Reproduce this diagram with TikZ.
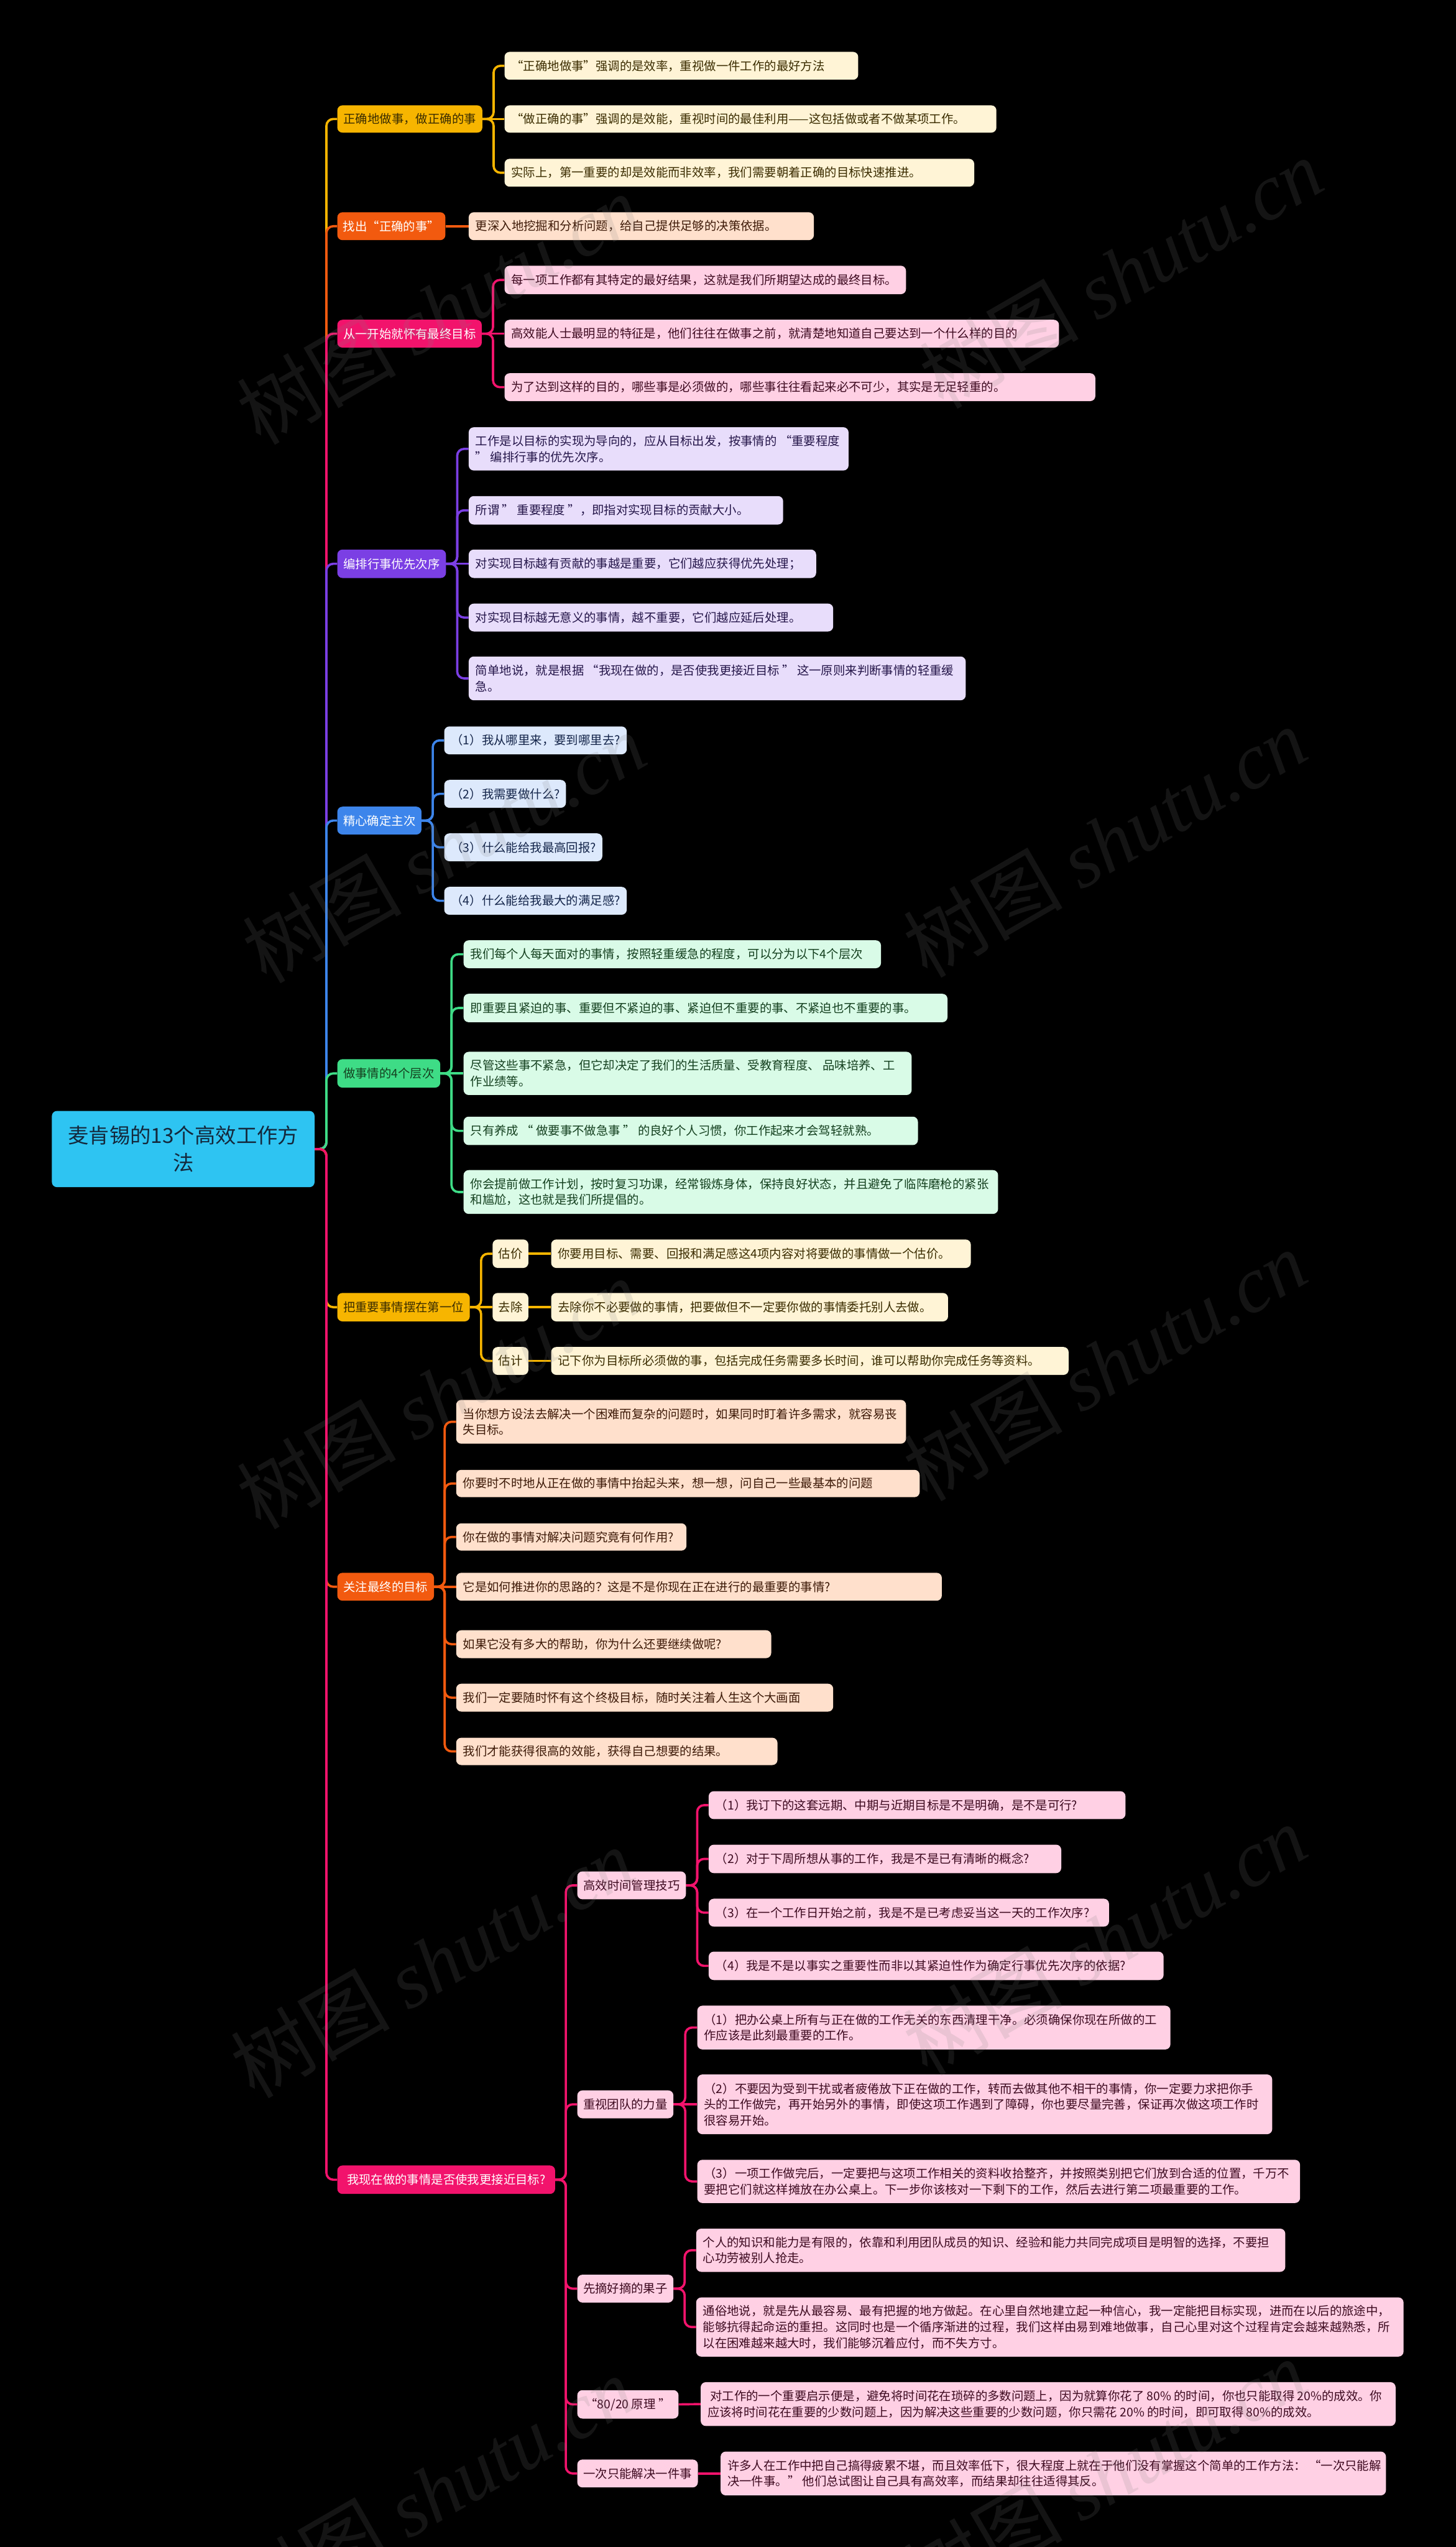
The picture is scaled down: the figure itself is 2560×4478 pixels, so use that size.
\documentclass[tikz,border=0pt]{standalone}
\usepackage{fontspec}
\setmainfont{Noto Sans CJK SC}
\newfontfamily\wmserif{Liberation Serif}
\definecolor{cYel}{HTML}{F7B500}
\definecolor{lYel}{HTML}{FFF4D6}
\definecolor{tYel}{HTML}{3A2C00}
\definecolor{cOra}{HTML}{F25A0F}
\definecolor{lOra}{HTML}{FFE0CC}
\definecolor{tOra}{HTML}{3D1A08}
\definecolor{cMag}{HTML}{F2136C}
\definecolor{lMag}{HTML}{FFD0E4}
\definecolor{tMag}{HTML}{3D0A20}
\definecolor{cPur}{HTML}{7B3FE4}
\definecolor{lPur}{HTML}{E8DDFB}
\definecolor{tPur}{HTML}{25164A}
\definecolor{cBlu}{HTML}{3D85EB}
\definecolor{lBlu}{HTML}{DDE9FC}
\definecolor{tBlu}{HTML}{14254A}
\definecolor{cGrn}{HTML}{3EDC86}
\definecolor{lGrn}{HTML}{D9FBE7}
\definecolor{tGrn}{HTML}{14401F}
\definecolor{cRoot}{HTML}{2EC4F2}
\definecolor{tRoot}{HTML}{14283C}
\pgfdeclarelayer{back}
\pgfdeclarelayer{lines}
\pgfsetlayers{back,lines,main}
% name, fill, text colour, x1, y1, x2, y2, text
\newcommand\mkleaf[8]{%
  \node[boxs, fill=#2, minimum width={#6pt-#4pt}, minimum height={#7pt-#5pt}, anchor=north west] (#1) at (#4,#5) {};
  \node[txt, text=#3, anchor=west] (#1t) at ([xshift=12pt]#1.west) {#8};}
\newcommand\mkcent[8]{%
  \node[boxs, fill=#2, minimum width={#6pt-#4pt}, minimum height={#7pt-#5pt}, anchor=north west] (#1) at (#4,#5) {};
  \node[txt, text=#3, anchor=center, align=center] (#1t) at (#1.center) {#8};}
\newcommand\mklink[4]{\draw[conn,#1] (#2.east) -- (#2.east -| #3) |- (#4.west);}
\newcommand\mkstraight[3]{\draw[conn,#1] (#2.east) -- (#3.west);}
\newcommand\mkmain[2]{\draw[conn,#1] (root.east) -- (root.east -| sp) |- (#2.west);}
\begin{document}
\begin{tikzpicture}[x=1pt,y=-1pt,
  boxs/.style={rounded corners=9pt, inner sep=0pt, draw=none},
  txt/.style={inner sep=0pt, font=\fontsize{21.2}{28}\selectfont, align=left},
  conn/.style={line width=4pt, rounded corners=12pt},
  wm/.style={text=white!50!black, opacity=0.16, inner sep=0pt, rotate=30, font=\fontsize{140}{140}\selectfont}]
\begin{pgfonlayer}{back}
\fill[black] (0,0) rectangle (2560,4478);
\end{pgfonlayer}
\useasboundingbox (0,0) rectangle (2560,4478);

\coordinate (sp) at (574,0);
\coordinate (v1) at (868,0);
\coordinate (v3) at (867,0);
\coordinate (v4) at (804,0);
\coordinate (v5) at (761,0);
\coordinate (v6) at (794,0);
\coordinate (v7) at (846,0);
\coordinate (v8) at (782,0);
\coordinate (v9) at (995,0);
\coordinate (v9a) at (1226,0);
\coordinate (v9b) at (1205,0);
\coordinate (v9c) at (1204,0);

% root
\node[boxs, fill=cRoot, minimum width=462pt, minimum height=134pt, anchor=north west] (root) at (91,1953) {};
\node[inner sep=0pt, text=tRoot, align=center, font=\fontsize{36.5}{48}\selectfont] (roott) at (root.center) {麦肯锡的13个高效工作方\\法};

% branch nodes
\mkcent{b1}{cYel}{tYel}{593}{185}{848}{233}{正确地做事，做正确的事}
\mkcent{b2}{cOra}{white}{593}{373}{783}{422}{找出“正确的事”}
\mkcent{b3}{cMag}{white}{593}{562}{847}{611}{从一开始就怀有最终目标}
\mkcent{b4}{cPur}{white}{593}{966}{784}{1016}{编排行事优先次序}
\mkcent{b5}{cBlu}{white}{593}{1418}{741}{1467}{精心确定主次}
\mkcent{b6}{cGrn}{tGrn}{593}{1862}{774}{1912}{做事情的4个层次}
\mkcent{b7}{cYel}{tYel}{593}{2273}{826}{2323}{把重要事情摆在第一位}
\mkcent{b8}{cOra}{white}{593}{2765}{763}{2814}{关注最终的目标}
\mkcent{b9}{cMag}{white}{593}{3807}{976}{3857}{我现在做的事情是否使我更接近目标?}

% branch 1
\mkleaf{l1a}{lYel}{tYel}{887}{91}{1509}{140}{“正确地做事”强调的是效率，重视做一件工作的最好方法}
\mkleaf{l1b}{lYel}{tYel}{887}{185}{1752}{233}{“做正确的事”强调的是效能，重视时间的最佳利用——这包括做或者不做某项工作。}
\mkleaf{l1c}{lYel}{tYel}{887}{279}{1713}{328}{实际上，第一重要的却是效能而非效率，我们需要朝着正确的目标快速推进。}
% branch 2
\mkleaf{l2a}{lOra}{tOra}{824}{373}{1431}{422}{更深入地挖掘和分析问题，给自己提供足够的决策依据。}
% branch 3
\mkleaf{l3a}{lMag}{tMag}{887}{467}{1593}{517}{每一项工作都有其特定的最好结果，这就是我们所期望达成的最终目标。}
\mkleaf{l3b}{lMag}{tMag}{887}{562}{1862}{611}{高效能人士最明显的特征是，他们往往在做事之前，就清楚地知道自己要达到一个什么样的目的}
\mkleaf{l3c}{lMag}{tMag}{887}{656}{1926}{705}{为了达到这样的目的，哪些事是必须做的，哪些事往往看起来必不可少，其实是无足轻重的。}
% branch 4
\mkleaf{l4a}{lPur}{tPur}{824}{751}{1492}{827}{工作是以目标的实现为导向的，应从目标出发，按事情的 “重要程度\\” 编排行事的优先次序。}
\mkleaf{l4b}{lPur}{tPur}{824}{872}{1377}{922}{所谓 " 重要程度 "，即指对实现目标的贡献大小。}
\mkleaf{l4c}{lPur}{tPur}{824}{966}{1435}{1016}{对实现目标越有贡献的事越是重要，它们越应获得优先处理；}
\mkleaf{l4d}{lPur}{tPur}{824}{1061}{1465}{1110}{对实现目标越无意义的事情，越不重要，它们越应延后处理。}
\mkleaf{l4e}{lPur}{tPur}{824}{1154}{1698}{1231}{简单地说，就是根据 “我现在做的，是否使我更接近目标 ” 这一原则来判断事情的轻重缓\\急。}
% branch 5
\mkleaf{l5a}{lBlu}{tBlu}{781}{1277}{1102}{1326}{（1）我从哪里来，要到哪里去?}
\mkleaf{l5b}{lBlu}{tBlu}{781}{1371}{995}{1420}{（2）我需要做什么?}
\mkleaf{l5c}{lBlu}{tBlu}{781}{1465}{1059}{1514}{（3）什么能给我最高回报?}
\mkleaf{l5d}{lBlu}{tBlu}{781}{1559}{1102}{1608}{（4）什么能给我最大的满足感?}
% branch 6
\mkleaf{l6a}{lGrn}{tGrn}{815}{1653}{1549}{1702}{我们每个人每天面对的事情，按照轻重缓急的程度，可以分为以下4个层次}
\mkleaf{l6b}{lGrn}{tGrn}{815}{1747}{1666}{1797}{即重要且紧迫的事、重要但不紧迫的事、紧迫但不重要的事、不紧迫也不重要的事。}
\mkleaf{l6c}{lGrn}{tGrn}{815}{1849}{1603}{1925}{尽管这些事不紧急，但它却决定了我们的生活质量、受教育程度、 品味培养、工\\作业绩等。}
\mkleaf{l6d}{lGrn}{tGrn}{815}{1963}{1614}{2013}{只有养成 “ 做要事不做急事 ” 的良好个人习惯，你工作起来才会驾轻就熟。}
\mkleaf{l6e}{lGrn}{tGrn}{815}{2057}{1755}{2134}{你会提前做工作计划，按时复习功课，经常锻炼身体，保持良好状态，并且避免了临阵磨枪的紧张\\和尴尬，这也就是我们所提倡的。}
% branch 7
\mkcent{m7a}{lYel}{tYel}{866}{2179}{929}{2229}{估价}
\mkcent{m7b}{lYel}{tYel}{866}{2273}{929}{2323}{去除}
\mkcent{m7c}{lYel}{tYel}{866}{2368}{929}{2417}{估计}
\mkleaf{l7a}{lYel}{tYel}{969}{2179}{1707}{2229}{你要用目标、需要、回报和满足感这4项内容对将要做的事情做一个估价。}
\mkleaf{l7b}{lYel}{tYel}{969}{2273}{1667}{2323}{去除你不必要做的事情，把要做但不一定要你做的事情委托别人去做。}
\mkleaf{l7c}{lYel}{tYel}{969}{2368}{1879}{2417}{记下你为目标所必须做的事，包括完成任务需要多长时间，谁可以帮助你完成任务等资料。}
% branch 8
\mkleaf{l8a}{lOra}{tOra}{802}{2461}{1593}{2538}{当你想方设法去解决一个困难而复杂的问题时，如果同时盯着许多需求，就容易丧\\失目标。}
\mkleaf{l8b}{lOra}{tOra}{802}{2584}{1617}{2632}{你要时不时地从正在做的事情中抬起头来，想一想，问自己一些最基本的问题}
\mkleaf{l8c}{lOra}{tOra}{802}{2678}{1207}{2726}{你在做的事情对解决问题究竟有何作用?}
\mkleaf{l8d}{lOra}{tOra}{802}{2765}{1656}{2814}{它是如何推进你的思路的？这是不是你现在正在进行的最重要的事情?}
\mkleaf{l8e}{lOra}{tOra}{802}{2866}{1356}{2915}{如果它没有多大的帮助，你为什么还要继续做呢?}
\mkleaf{l8f}{lOra}{tOra}{802}{2960}{1465}{3009}{我们一定要随时怀有这个终极目标，随时关注着人生这个大画面}
\mkleaf{l8g}{lOra}{tOra}{802}{3055}{1367}{3103}{我们才能获得很高的效能，获得自己想要的结果。}
% branch 9
\mkcent{m9a}{lMag}{tMag}{1015}{3290}{1206}{3339}{高效时间管理技巧}
\mkleaf{l9a1}{lMag}{tMag}{1246}{3149}{1979}{3198}{（1）我订下的这套远期、中期与近期目标是不是明确，是不是可行?}
\mkleaf{l9a2}{lMag}{tMag}{1246}{3243}{1866}{3293}{（2）对于下周所想从事的工作，我是不是已有清晰的概念?}
\mkleaf{l9a3}{lMag}{tMag}{1246}{3338}{1950}{3387}{（3）在一个工作日开始之前，我是不是已考虑妥当这一天的工作次序?}
\mkleaf{l9a4}{lMag}{tMag}{1246}{3431}{2046}{3481}{（4）我是不是以事实之重要性而非以其紧迫性作为确定行事优先次序的依据?}
\mkcent{m9b}{lMag}{tMag}{1015}{3675}{1184}{3724}{重视团队的力量}
\mkleaf{l9b1}{lMag}{tMag}{1226}{3526}{2058}{3603}{（1）把办公桌上所有与正在做的工作无关的东西清理干净。必须确保你现在所做的工\\作应该是此刻最重要的工作。}
\mkleaf{l9b2}{lMag}{tMag}{1226}{3647}{2237}{3752}{（2）不要因为受到干扰或者疲倦放下正在做的工作，转而去做其他不相干的事情，你一定要力求把你手\\头的工作做完，再开始另外的事情，即使这项工作遇到了障碍，你也要尽量完善，保证再次做这项工作时\\很容易开始。}
\mkleaf{l9b3}{lMag}{tMag}{1226}{3797}{2286}{3873}{（3）一项工作做完后，一定要把与这项工作相关的资料收拾整齐，并按照类别把它们放到合适的位置，千万不\\要把它们就这样摊放在办公桌上。下一步你该核对一下剩下的工作，然后去进行第二项最重要的工作。}
\mkcent{m9c}{lMag}{tMag}{1015}{3999}{1184}{4048}{先摘好摘的果子}
\mkleaf{l9c1}{lMag}{tMag}{1224}{3918}{2260}{3994}{个人的知识和能力是有限的，依靠和利用团队成员的知识、经验和能力共同完成项目是明智的选择，不要担\\心功劳被别人抢走。}
\mkleaf{l9c2}{lMag}{tMag}{1224}{4039}{2468}{4143}{通俗地说，就是先从最容易、最有把握的地方做起。在心里自然地建立起一种信心，我一定能把目标实现，进而在以后的旅途中，\\能够抗得起命运的重担。这同时也是一个循序渐进的过程，我们这样由易到难地做事，自己心里对这个过程肯定会越来越熟悉，所\\以在困难越来越大时，我们能够沉着应付，而不失方寸。}
\mkcent{m9d}{lMag}{tMag}{1015}{4202}{1193}{4252}{“80/20 原理 ”}
\mkleaf{l9d1}{lMag}{tMag}{1232}{4188}{2454}{4265}{\ 对工作的一个重要启示便是，避免将时间花在琐碎的多数问题上，因为就算你花了 80\% 的时间，你也只能取得 20\%的成效。你\\应该将时间花在重要的少数问题上，因为解决这些重要的少数问题，你只需花 20\% 的时间，即可取得 80\%的成效。}
\mkcent{m9e}{lMag}{tMag}{1015}{4324}{1227}{4373}{一次只能解决一件事}
\mkleaf{l9e1}{lMag}{tMag}{1267}{4310}{2437}{4387}{许多人在工作中把自己搞得疲累不堪，而且效率低下，很大程度上就在于他们没有掌握这个简单的工作方法： “一次只能解\\决一件事。” 他们总试图让自己具有高效率，而结果却往往适得其反。}

\begin{pgfonlayer}{lines}
\mkmain{cYel}{b1}
\mkstraight{cYel}{b1}{l1b}
\mklink{cYel}{b1}{v1}{l1a}
\mklink{cYel}{b1}{v1}{l1c}
\mkmain{cOra}{b2}
\mkstraight{cOra}{b2}{l2a}
\mkmain{cMag}{b3}
\mkstraight{cMag}{b3}{l3b}
\mklink{cMag}{b3}{v3}{l3a}
\mklink{cMag}{b3}{v3}{l3c}
\mkmain{cPur}{b4}
\mkstraight{cPur}{b4}{l4c}
\mklink{cPur}{b4}{v4}{l4a}
\mklink{cPur}{b4}{v4}{l4b}
\mklink{cPur}{b4}{v4}{l4d}
\mklink{cPur}{b4}{v4}{l4e}
\mkmain{cBlu}{b5}
\mklink{cBlu}{b5}{v5}{l5a}
\mklink{cBlu}{b5}{v5}{l5b}
\mklink{cBlu}{b5}{v5}{l5c}
\mklink{cBlu}{b5}{v5}{l5d}
\mkmain{cGrn}{b6}
\mkstraight{cGrn}{b6}{l6c}
\mklink{cGrn}{b6}{v6}{l6a}
\mklink{cGrn}{b6}{v6}{l6b}
\mklink{cGrn}{b6}{v6}{l6d}
\mklink{cGrn}{b6}{v6}{l6e}
\mkmain{cYel}{b7}
\mkstraight{cYel}{b7}{m7b}
\mklink{cYel}{b7}{v7}{m7a}
\mklink{cYel}{b7}{v7}{m7c}
\mkstraight{cYel}{m7a}{l7a}
\mkstraight{cYel}{m7b}{l7b}
\mkstraight{cYel}{m7c}{l7c}
\mkmain{cOra}{b8}
\mkstraight{cOra}{b8}{l8d}
\mklink{cOra}{b8}{v8}{l8a}
\mklink{cOra}{b8}{v8}{l8b}
\mklink{cOra}{b8}{v8}{l8c}
\mklink{cOra}{b8}{v8}{l8e}
\mklink{cOra}{b8}{v8}{l8f}
\mklink{cOra}{b8}{v8}{l8g}
\mkmain{cMag}{b9}
\mklink{cMag}{b9}{v9}{m9a}
\mklink{cMag}{b9}{v9}{m9b}
\mklink{cMag}{b9}{v9}{m9c}
\mklink{cMag}{b9}{v9}{m9d}
\mklink{cMag}{b9}{v9}{m9e}
\mklink{cMag}{m9a}{v9a}{l9a1}
\mklink{cMag}{m9a}{v9a}{l9a2}
\mklink{cMag}{m9a}{v9a}{l9a3}
\mklink{cMag}{m9a}{v9a}{l9a4}
\mkstraight{cMag}{m9b}{l9b2}
\mklink{cMag}{m9b}{v9b}{l9b1}
\mklink{cMag}{m9b}{v9b}{l9b3}
\mklink{cMag}{m9c}{v9c}{l9c1}
\mklink{cMag}{m9c}{v9c}{l9c2}
\mkstraight{cMag}{m9d}{l9d1}
\mkstraight{cMag}{m9e}{l9e1}
\end{pgfonlayer}

% watermarks
\node[wm] (w1) at (771,543) {树图 {\wmserif\itshape shutu.cn}};
\node[wm] (w2) at (1971,480) {树图 {\wmserif\itshape shutu.cn}};
\node[wm] (w3) at (780,1490) {树图 {\wmserif\itshape shutu.cn}};
\node[wm] (w4) at (1943,1480) {树图 {\wmserif\itshape shutu.cn}};
\node[wm] (w5) at (771,2450) {树图 {\wmserif\itshape shutu.cn}};
\node[wm] (w6) at (1943,2400) {树图 {\wmserif\itshape shutu.cn}};
\node[wm] (w7) at (760,3450) {树图 {\wmserif\itshape shutu.cn}};
\node[wm] (w8) at (1943,3410) {树图 {\wmserif\itshape shutu.cn}};
\node[wm] (w9) at (760,4380) {树图 {\wmserif\itshape shutu.cn}};
\node[wm] (w10) at (1943,4350) {树图 {\wmserif\itshape shutu.cn}};
\end{tikzpicture}
\end{document}
